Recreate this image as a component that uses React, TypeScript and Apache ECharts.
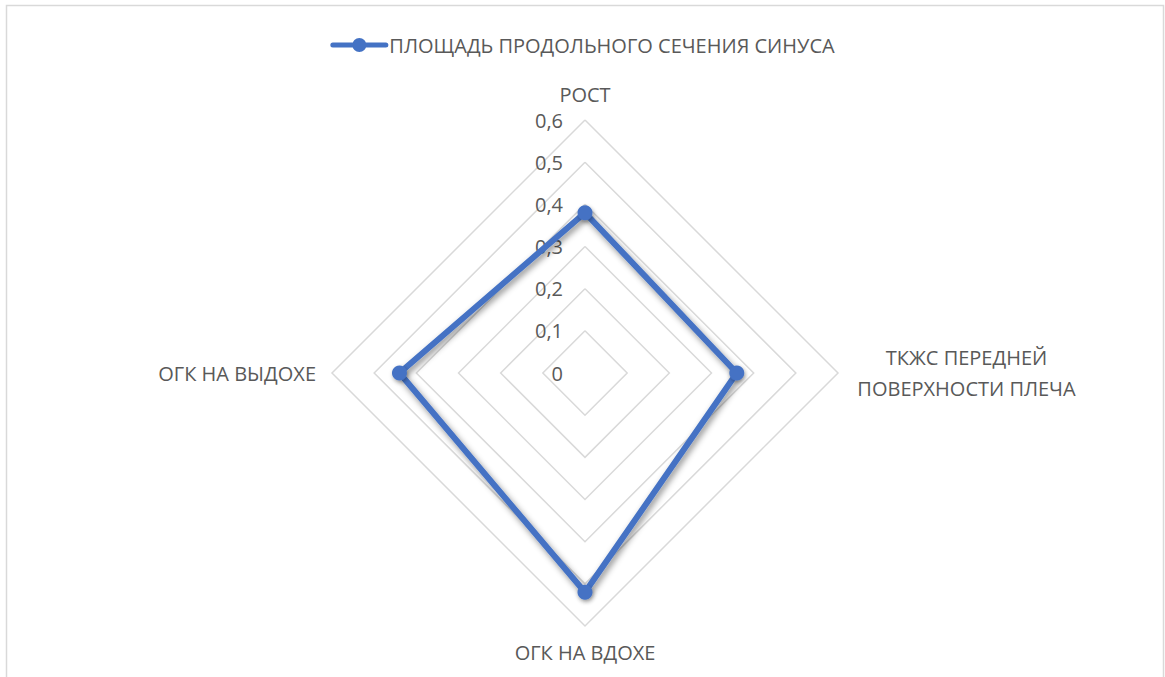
import React, { useEffect, useRef } from "react";
import * as echarts from "echarts";

const seriesName = "ПЛОЩАДЬ ПРОДОЛЬНОГО СЕЧЕНИЯ СИНУСА";
// clockwise order as in the reference, starting at the top
const indicatorNames = ["РОСТ", "ТКЖС ПЕРЕДНЕЙ\nПОВЕРХНОСТИ ПЛЕЧА", "ОГК НА ВДОХЕ", "ОГК НА ВЫДОХЕ"];
const values = [0.38, 0.36, 0.52, 0.44];
const axisMax = 0.6;
const splitCount = 6;

// ECharts radar goes counter-clockwise: reorder so the picture runs clockwise
const order = [0, 3, 2, 1];

const FONT = "'Open Sans', 'Noto Sans', sans-serif";
const TEXT = "#595959";
const FS = 20;

const legendIcon =
  "path://M2.5,4.5 L55.5,4.5 A2.5,2.5 0 0 1 55.5,9.5 L2.5,9.5 A2.5,2.5 0 0 1 2.5,4.5 Z M22,7 A7,7 0 1 1 36,7 A7,7 0 1 1 22,7 Z";

export default function App() {
  const ref = useRef<HTMLDivElement>(null);
  useEffect(() => {
    if (!ref.current) return;
    const chart = echarts.init(ref.current, undefined, { renderer: "svg" });
    chart.setOption({
      animation: false,
      backgroundColor: "#ffffff",
      graphic: [
        {
          type: "rect",
          shape: { x: 6.5, y: 5.5, width: 1157, height: 700 },
          style: { fill: "none", stroke: "#d9d9d9", lineWidth: 1.5 },
          silent: true,
        },
      ],
      legend: {
        top: 30,
        left: "center",
        itemWidth: 58,
        itemHeight: 14,
        itemGap: 10,
        textStyle: { color: TEXT, fontSize: FS, fontFamily: FONT, padding: [0, 0, 0, -4] },
        data: [{ name: seriesName, icon: legendIcon, itemStyle: { color: "#4472C4" } }],
      },
      radar: {
        center: [585, 373],
        radius: 253,
        startAngle: 90,
        shape: "polygon",
        splitNumber: splitCount,
        nameGap: 16,
        axisName: {
          color: TEXT,
          fontSize: FS,
          fontFamily: FONT,
          formatter: (name: string) => {
            if (name.indexOf("\n") >= 0) {
              return name
                .split("\n")
                .map((l) => "{c|" + l + "}")
                .join("\n");
            }
            return name;
          },
          rich: {
            c: { width: 225, align: "center", fontSize: FS, fontFamily: FONT, color: TEXT, lineHeight: 31 },
          },
        },
        axisLine: { show: false },
        axisTick: { show: false },
        axisLabel: { show: false },
        splitArea: { show: false },
        splitLine: { lineStyle: { color: "#d9d9d9", width: 1.5 } },
        indicator: order.map((idx, i) => ({
          name: indicatorNames[idx],
          min: 0,
          max: axisMax,
          axisLabel:
            i === 0
              ? {
                  show: true,
                  color: TEXT,
                  fontSize: FS,
                  fontFamily: FONT,
                  margin: 22,
                  formatter: (v: number) => String(Math.round(v * 10) / 10).replace(".", ","),
                }
              : { show: false },
        })),
      },
      series: [
        {
          type: "radar",
          name: seriesName,
          symbol: "circle",
          symbolSize: 15,
          lineStyle: {
            color: "#4472C4",
            width: 6,
            shadowColor: "rgba(0,0,0,0.45)",
            shadowBlur: 6,
            shadowOffsetX: 2,
            shadowOffsetY: 3,
          },
          itemStyle: { color: "#4472C4", shadowColor: "rgba(0,0,0,0.35)", shadowBlur: 4, shadowOffsetX: 1, shadowOffsetY: 2 },
          data: [{ value: order.map((idx) => values[idx]), name: seriesName }],
        },
      ],
    });
    return () => chart.dispose();
  }, []);
  return <div ref={ref} style={{ position: "fixed", left: 0, top: 0, width: 1165, height: 677 }} />;
}
